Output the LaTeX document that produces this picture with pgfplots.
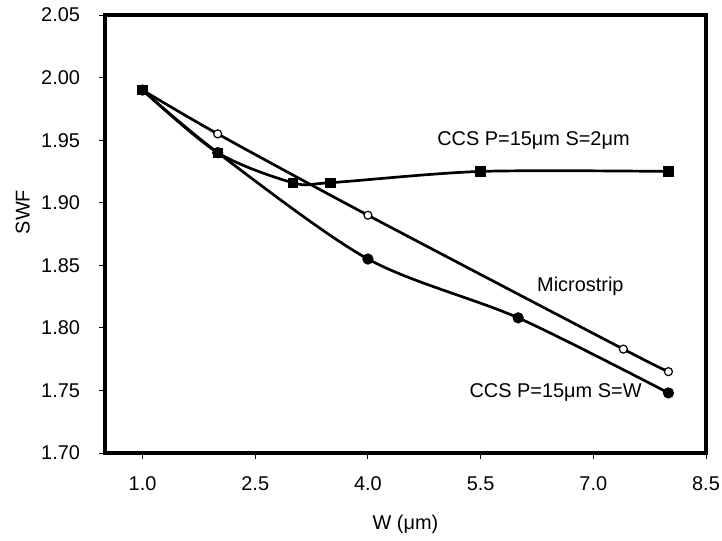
\documentclass[border=0pt]{standalone}
\usepackage{fontspec}
\setmainfont{Liberation Sans}
\usepackage{pgfplots}
\pgfplotsset{compat=1.18}

\newcommand\chartfont{\fontsize{20}{24}\selectfont}

\begin{document}
\begin{tikzpicture}
\begin{axis}[
  scale only axis,
  width=601bp, height=438bp,
  xmin=0.5, xmax=8.5, ymin=1.70, ymax=2.05,
  xtick={1,2.5,4,5.5,7,8.5},
  xticklabels={1.0,2.5,4.0,5.5,7.0,8.5},
  ytick={1.70,1.75,1.80,1.85,1.90,1.95,2.00,2.05},
  yticklabels={1.70,1.75,1.80,1.85,1.90,1.95,2.00,2.05},
  xtick pos=bottom, ytick pos=left,
  tick align=outside,
  major tick length=5.5bp,
  tick style={black, line width=0.9bp},
  axis line style={line width=3.5bp},
  font=\chartfont,
  xticklabel style={yshift=-15bp},
  yticklabel style={xshift=-16bp},
  xlabel={W (μm)},
  ylabel={SWF},
  every axis x label/.style={at={(axis description cs:0.5,-0.164)}, anchor=center},
  every axis y label/.style={at={(axis description cs:-0.137,0.55)}, rotate=90, anchor=center},
  clip=false,
]
% CCS, P = 15 um, S = 2 um
\addplot[black, line width=2.7bp, smooth, mark=square*, mark size=3.8bp,
  mark options={solid}] coordinates {
  (1.0,1.990) (2.0,1.940) (3.0,1.916) (3.5,1.916) (5.5,1.925) (8.0,1.925)
};
% Microstrip
\addplot[black, line width=2.7bp, smooth, mark=*, mark size=4bp,
  mark options={fill=white, line width=1.2bp}] coordinates {
  (1.0,1.990) (2.0,1.955) (4.0,1.890) (7.4,1.783) (8.0,1.765)
};
% CCS, P = 15 um, S = W
\addplot[black, line width=2.7bp, smooth, mark=*, mark size=4.2bp] coordinates {
  (1.0,1.990) (2.0,1.940) (4.0,1.855) (6.0,1.808) (8.0,1.748)
};
\node[anchor=west, font=\chartfont, inner sep=0pt] at (axis cs:4.92,1.9494) {CCS P=15μm S=2μm};
\node[anchor=west, font=\chartfont, inner sep=0pt] at (axis cs:6.25,1.833) {Microstrip};
\node[anchor=west, font=\chartfont, inner sep=0pt] at (axis cs:5.35,1.7484) {CCS P=15μm S=W};
\end{axis}
\pgfresetboundingbox
\path[use as bounding box] (-105bp,-88bp) rectangle (617bp,453bp);
\end{tikzpicture}
\end{document}
